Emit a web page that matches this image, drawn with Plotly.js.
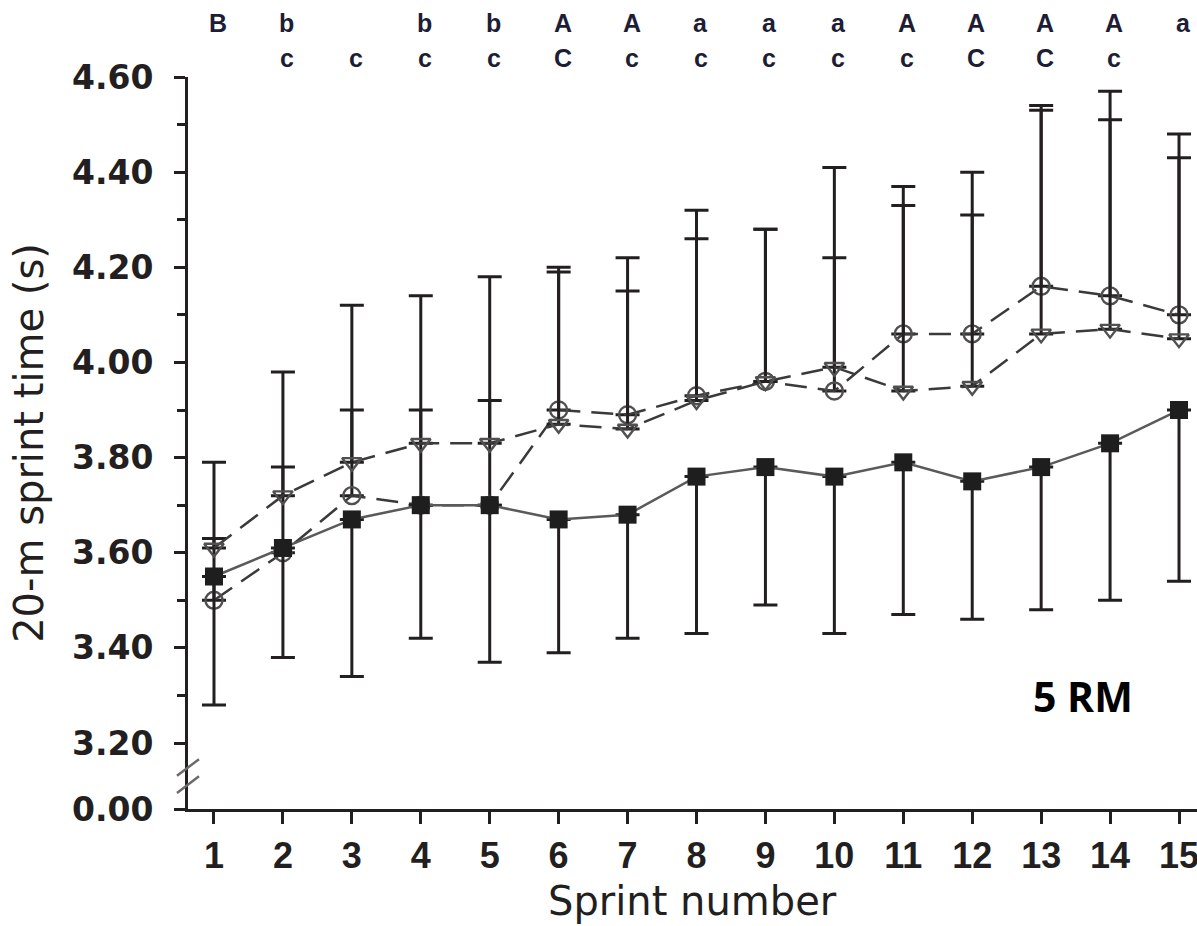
<!DOCTYPE html>
<html>
<head>
<meta charset="utf-8">
<script src="https://cdn.plot.ly/plotly-3.0.1.min.js"></script>
<style>
html,body{margin:0;padding:0;background:#ffffff;}
#chart{width:1197px;height:926px;}
</style>
</head>
<body>
<div id="chart"></div>
<script>
// ---- data ----
const sprints = [1,2,3,4,5,6,7,8,9,10,11,12,13,14,15];
const xTickLabels = ['1','2','3','4','5','6','7','8','9','10','11','12','13','14','15'];

// filled squares (5 RM) - mean and SD (drawn downward)
const squareMean = [3.55,3.61,3.67,3.70,3.70,3.67,3.68,3.76,3.78,3.76,3.79,3.75,3.78,3.83,3.90];
const squareSD   = [0.27,0.23,0.33,0.28,0.33,0.28,0.26,0.33,0.29,0.33,0.32,0.29,0.30,0.33,0.36];

// open circles - mean and SD (drawn upward)
const circleMean = [3.50,3.60,3.72,3.70,3.70,3.90,3.89,3.93,3.96,3.94,4.06,4.06,4.16,4.14,4.10];
const circleSD   = [0.13,0.18,0.18,0.20,0.22,0.29,0.26,0.33,0.32,0.28,0.27,0.25,0.37,0.37,0.33];

// open down-triangles - mean and SD (drawn upward)
const triangleMean = [3.61,3.72,3.79,3.83,3.83,3.87,3.86,3.92,3.96,3.99,3.94,3.95,4.06,4.07,4.05];
const triangleSD   = [0.18,0.26,0.33,0.31,0.35,0.33,0.36,0.40,0.32,0.42,0.43,0.45,0.48,0.50,0.43];

// significance letters above the plot
const letterRow1 = ['B','b','','b','b','A','A','a','a','a','A','A','A','A','a'];
const letterRow2 = ['','c','c','c','c','C','c','c','c','c','c','C','C','c',''];

// y axis ticks (broken axis: 0.00 shown below the break)
const yTickValues = [3.2,3.4,3.6,3.8,4.0,4.2,4.4,4.6];
const yTickLabels = ['3.20','3.40','3.60','3.80','4.00','4.20','4.40','4.60'];
const yMinorTicks = [3.3,3.5,3.7,3.9,4.1,4.3,4.5];
const breakLabel = '0.00';
const panelLabel = '5 RM';
const xTitle = 'Sprint number';
const yTitle = '20-m sprint time (s)';

// ---- layout constants ----
const yBottom = 3.0613;   // where the "0.00" tick sits after the axis break
const ink = '#231f20';
const zeros = sprints.map(() => 0);

const traces = [
  {
    x: sprints, y: circleMean, type: 'scatter', mode: 'lines+markers', cliponaxis: false,
    line: {color: '#3a3a3a', width: 2.5, dash: '22px,11px'},
    marker: {symbol: 'circle-open', size: 17, color: '#505050', line: {width: 2.4, color: '#505050'}},
    error_y: {type: 'data', symmetric: false, array: circleSD, arrayminus: zeros,
              color: ink, thickness: 3, width: 12},
    hoverinfo: 'x+y', showlegend: false
  },
  {
    x: sprints, y: triangleMean, type: 'scatter', mode: 'lines+markers', cliponaxis: false,
    line: {color: '#3a3a3a', width: 2.5, dash: '22px,11px'},
    marker: {symbol: 'triangle-down-open', size: 17, color: '#505050', line: {width: 2.4, color: '#505050'}},
    error_y: {type: 'data', symmetric: false, array: triangleSD, arrayminus: zeros,
              color: ink, thickness: 3, width: 12},
    hoverinfo: 'x+y', showlegend: false
  },
  {
    x: sprints, y: squareMean, type: 'scatter', mode: 'lines+markers', cliponaxis: false,
    line: {color: '#5a5a5a', width: 2.5},
    marker: {symbol: 'square', size: 18, color: '#1e1e1e'},
    error_y: {type: 'data', symmetric: false, array: zeros, arrayminus: squareSD,
              color: ink, thickness: 3, width: 12},
    hoverinfo: 'x+y', showlegend: false
  }
];

const letterFont = {family: 'Liberation Sans, Arial, sans-serif', size: 25, weight: 700, color: '#1d1d35'};
const annotations = [];
sprints.forEach((s, i) => {
  if (letterRow1[i]) annotations.push({x: s, xref: 'x', y: 1.074, yref: 'paper', text: letterRow1[i],
    showarrow: false, xanchor: 'center', yanchor: 'middle', xshift: 4, font: letterFont});
  if (letterRow2[i]) annotations.push({x: s, xref: 'x', y: 1.026, yref: 'paper', text: letterRow2[i],
    showarrow: false, xanchor: 'center', yanchor: 'middle', xshift: 4, font: letterFont});
});
annotations.push({x: 0.887, xref: 'paper', y: 0.154, yref: 'paper', text: panelLabel, showarrow: false,
  xanchor: 'center', yanchor: 'middle',
  font: {family: 'Open Sans, Noto Sans, sans-serif', size: 41, weight: 700, color: '#000000'}});
// x-axis title placed tight under the tick labels, as in the reference
annotations.push({x: 0.5, xref: 'paper', y: -0.126, yref: 'paper', text: xTitle, showarrow: false,
  xanchor: 'center', yanchor: 'middle',
  font: {family: 'DejaVu Sans, sans-serif', size: 40, color: ink}});

const shapes = [
  {type: 'line', xref: 'paper', yref: 'y', x0: -0.0109, x1: 0.0109, y0: 3.131, y1: 3.166,
   line: {color: '#6a6a6a', width: 2.5}},
  {type: 'line', xref: 'paper', yref: 'y', x0: -0.0109, x1: 0.0109, y0: 3.095, y1: 3.130,
   line: {color: '#6a6a6a', width: 2.5}}
];

const layout = {
  width: 1197, height: 926,
  margin: {l: 188, r: 0, t: 77, b: 117, pad: 0},
  paper_bgcolor: '#ffffff', plot_bgcolor: '#ffffff',
  showlegend: false,
  xaxis: {
    range: [0.623, 15.261], automargin: false,
    tickmode: 'array', tickvals: sprints, ticktext: xTickLabels,
    ticks: 'outside', ticklen: 12, tickwidth: 3, tickcolor: ink,
    showline: true, linewidth: 3, linecolor: ink,
    showgrid: false, zeroline: false, ticklabelstandoff: 1, ticklabeloverflow: 'allow',
    tickfont: {family: 'Liberation Sans, Arial, sans-serif', size: 36, weight: 700, color: ink}
  },
  yaxis: {
    range: [yBottom, 4.6], automargin: false,
    tickmode: 'array', tickvals: [yBottom].concat(yTickValues), ticktext: [breakLabel].concat(yTickLabels),
    ticks: 'outside', ticklen: 11, tickwidth: 3, tickcolor: ink,
    minor: {tickmode: 'array', tickvals: yMinorTicks, ticks: 'outside', ticklen: 8, tickwidth: 3, tickcolor: ink, showgrid: false},
    showline: true, linewidth: 3, linecolor: ink,
    showgrid: false, zeroline: false, ticklabelstandoff: 14,
    tickfont: {family: 'DejaVu Sans, sans-serif', size: 33, weight: 700, color: ink},
    title: {text: yTitle, standoff: 16,
            font: {family: 'DejaVu Sans, sans-serif', size: 40, color: ink}}
  },
  annotations: annotations,
  shapes: shapes
};

Plotly.newPlot('chart', traces, layout, {displayModeBar: false, staticPlot: true});
</script>
</body>
</html>
